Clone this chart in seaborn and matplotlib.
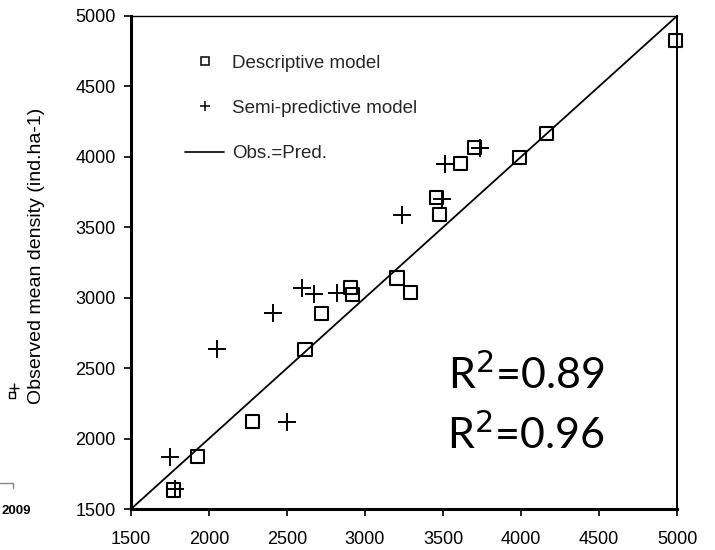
import matplotlib
matplotlib.use("Agg")
import matplotlib.pyplot as plt
import seaborn as sns
import pandas as pd
from matplotlib.lines import Line2D

# ---- data ----
desc_pred = [1775, 1925, 2280, 2615, 2720, 2905, 2920, 3205, 3290, 3460, 3480, 3610, 3700, 3990, 4165, 4990]
desc_obs = [1635, 1870, 2120, 2635, 2890, 3075, 3025, 3140, 3035, 3710, 3590, 3950, 4065, 3995, 4165, 4825]
semi_pred = [1750, 1780, 2050, 2410, 2500, 2595, 2675, 2820, 3240, 3495, 3510, 3740]
semi_obs = [1870, 1640, 2635, 2890, 2115, 3070, 3025, 3030, 3590, 3700, 3950, 4060]
line_x = [1500, 5000]
line_y = [1500, 5000]
ticks = [1500, 2000, 2500, 3000, 3500, 4000, 4500, 5000]
r2_labels = ["R$^2$=0.89", "R$^2$=0.96"]
labels = ["Descriptive model", "Semi-predictive model", "Obs.=Pred."]
ylabel = "Observed mean density (ind.ha-1)"

sns.set_theme(style="white")
plt.rcParams["font.family"] = ["Liberation Sans", "DejaVu Sans"]

fig = plt.figure(figsize=(7.15, 5.5), dpi=100)
ax = fig.add_axes([131 / 715, 1 - 509 / 550, 546 / 715, 493 / 550])

df_d = pd.DataFrame({"x": desc_pred, "y": desc_obs})
df_s = pd.DataFrame({"x": semi_pred, "y": semi_obs})
df_l = pd.DataFrame({"x": line_x, "y": line_y})

sns.lineplot(data=df_l, x="x", y="y", ax=ax, color="black", linewidth=1.3, label=labels[2], legend=False)
sns.scatterplot(data=df_d, x="x", y="y", ax=ax, marker="s", s=90, facecolors="none",
                edgecolor="black", linewidth=1.5, label=labels[0], legend=False, zorder=3,
                clip_on=False)
sns.scatterplot(data=df_s, x="x", y="y", ax=ax, marker="+", s=150, color="black",
                linewidth=1.4, label=labels[1], legend=False, zorder=3, clip_on=False)

ax.set_xlim(1500, 5000)
ax.set_ylim(1500, 5000)
ax.set_xticks(ticks)
ax.set_yticks(ticks)
ax.set_xlabel("")
ax.set_ylabel("")
ax.tick_params(axis="both", which="major", direction="out", length=5, width=1.2,
               color="black", labelsize=13, labelcolor="black", bottom=True, left=True, pad=6)
ax.tick_params(axis="x", pad=11)

for side in ["left", "bottom"]:
    ax.spines[side].set_linewidth(2.2)
    ax.spines[side].set_color("black")
ax.spines["top"].set_linewidth(1.0)
ax.spines["top"].set_color("black")
ax.spines["right"].set_linewidth(1.4)
ax.spines["right"].set_color("black")

h_sq = Line2D([], [], marker="s", linestyle="none", markerfacecolor="none",
              markeredgecolor="black", markersize=6, markeredgewidth=1.1)
h_pl = Line2D([], [], marker="+", linestyle="none", color="black", markersize=7, markeredgewidth=1.1)
h_ln = Line2D([], [], color="black", linewidth=1.2)
ax.legend([h_sq, h_pl, h_ln], labels, loc="upper left", bbox_to_anchor=(0.099, 0.922),
          frameon=False, fontsize=13.5, labelspacing=1.5, handlelength=2.1,
          handletextpad=0.4, borderaxespad=0, borderpad=0)

ax.text(4032, 2451, r2_labels[0], fontsize=31, family=["Lato", "DejaVu Sans"],
        ha="center", va="center", color="black")
ax.text(4032, 2025, r2_labels[1], fontsize=31, family=["Lato", "DejaVu Sans"],
        ha="center", va="center", color="black")

fig.text(37 / 715, 1 - 256 / 550, ylabel, rotation=90, ha="center", va="center",
         fontsize=14, color="black")

# fragments of a neighbouring panel at the left edge
fig.text(1 / 715, 1 - 511 / 550, "2009", ha="left", va="center", fontsize=9.5,
         weight="bold", color="black")
fig.add_artist(Line2D([0, 13 / 715, 13 / 715], [1 - 483 / 550, 1 - 483 / 550, 1 - 488 / 550],
                      transform=fig.transFigure, color="#888888", linewidth=1))
fig.add_artist(Line2D([12 / 715], [1 - 395 / 550], transform=fig.transFigure, marker="s",
                      markerfacecolor="none", markeredgecolor="black", markersize=5, linestyle="none"))
fig.add_artist(Line2D([14 / 715], [1 - 388 / 550], transform=fig.transFigure, marker="+",
                      color="black", markersize=7, linestyle="none"))

fig.savefig("out.png", dpi=100)
